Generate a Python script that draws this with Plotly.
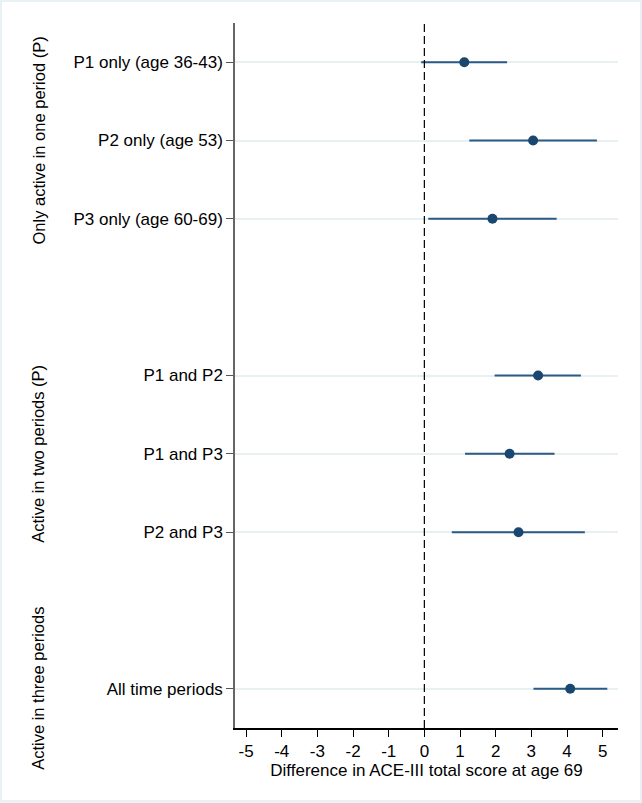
import plotly.graph_objects as go

labels = ["P1 only (age 36-43)", "P2 only (age 53)", "P3 only (age 60-69)",
          "P1 and P2", "P1 and P3", "P2 and P3", "All time periods"]
positions = [1, 2, 3, 5, 6, 7, 9]
estimate = [1.12, 3.05, 1.91, 3.19, 2.39, 2.64, 4.09]
ci_low = [-0.09, 1.26, 0.11, 1.97, 1.14, 0.77, 3.06]
ci_high = [2.32, 4.84, 3.71, 4.39, 3.65, 4.50, 5.13]

group_labels = ["Only active in one period (P)", "Active in two periods (P)", "Active in three periods"]
group_centers = [2, 6, 9]

x_ticks = [-5, -4, -3, -2, -1, 0, 1, 2, 3, 4, 5]

W, H = 642, 803
ML, MR, MT, MB = 235, 24, 23, 75
PW = W - ML - MR
PH = H - MT - MB

navy = "#1a476f"
font_family = "Liberation Sans, Arial, Helvetica, sans-serif"

fig = go.Figure()
fig.add_trace(go.Scatter(
    x=estimate, y=positions, mode="markers",
    marker=dict(color=navy, size=10),
    error_x=dict(type="data", symmetric=False,
                 array=[h - e for h, e in zip(ci_high, estimate)],
                 arrayminus=[e - l for e, l in zip(estimate, ci_low)],
                 width=0, thickness=2, color="#2a5a85"),
    showlegend=False,
))

# zero reference line
fig.add_shape(type="line", xref="x", yref="paper", x0=0, x1=0, y0=0, y1=1,
              line=dict(color="black", width=1.2, dash="8px,4px"))

# outer frame: white inner panel over light border
fig.add_shape(type="rect", xref="paper", yref="paper", layer="below",
              x0=(2 - ML) / PW, x1=(W - 2 - ML) / PW,
              y0=-(MB - 3) / PH, y1=(PH + MT - 2) / PH,
              fillcolor="white", line=dict(width=0))

for txt, c in zip(group_labels, group_centers):
    fig.add_annotation(text=txt, xref="paper", yref="y",
                       x=(38 - ML) / PW, y=c, textangle=-90, showarrow=False,
                       font=dict(size=16.5, color="black", family=font_family),
                       xanchor="center", yanchor="middle")

fig.update_xaxes(range=[-5.31, 5.43], tickvals=x_ticks, ticktext=[str(v) for v in x_ticks],
                 showgrid=False, zeroline=False, showline=True, linecolor="black", linewidth=1.5,
                 ticks="outside", ticklen=7, tickcolor="black",
                 tickfont=dict(size=17, color="black", family=font_family),
                 title=dict(text="Difference in ACE-III total score at age 69",
                            font=dict(size=17, color="black", family=font_family), standoff=0))
fig.update_yaxes(range=[9.5, 0.5], tickvals=positions, ticktext=labels,
                 showgrid=True, gridcolor="#e8f0f2", gridwidth=1.5, zeroline=False,
                 showline=True, linecolor="#666666", linewidth=1.5,
                 ticks="outside", ticklen=7, tickcolor="#555555",
                 tickfont=dict(size=17, color="black", family=font_family))

fig.update_layout(width=W, height=H, margin=dict(l=ML, r=MR, t=MT, b=MB),
                  paper_bgcolor="#eaf1f4", plot_bgcolor="white",
                  font=dict(family=font_family))

fig.write_html("out.html", config={"displayModeBar": False},
               post_script="document.body.style.margin='0';")
